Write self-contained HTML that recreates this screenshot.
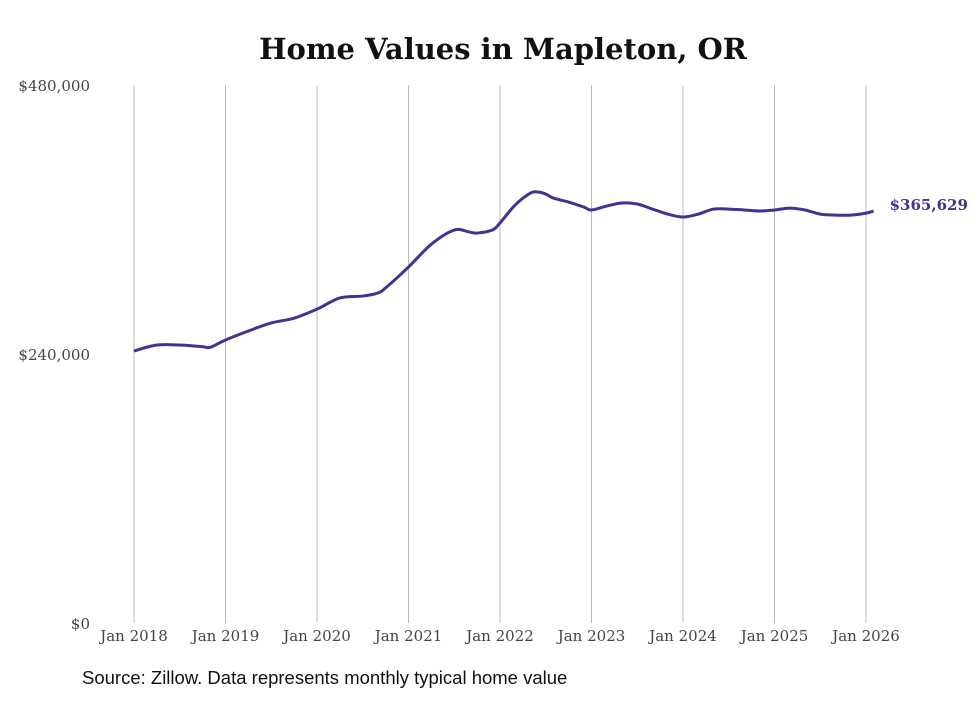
<!DOCTYPE html>
<html><head><meta charset="utf-8"><style>
body{margin:0;background:#fff;width:980px;height:699px;overflow:hidden}
svg text{font-family:"DejaVu Serif","Liberation Serif",serif}
</style></head><body>
<svg width="980" height="699">
<text x="503" y="59" text-anchor="middle" font-size="29" font-weight="bold" fill="#111">Home Values in Mapleton, OR</text>
<g id="grid"></g><g id="yaxis"></g><g id="xaxis"></g>
<path id="line" fill="none" stroke="#3f3393" stroke-width="3"/>
<text id="endlabel" font-size="15" font-weight="bold" fill="#3f3393"></text>
<text x="82" y="684" font-size="18.5" fill="#111" style="font-family:'Liberation Sans',sans-serif">Source: Zillow. Data represents monthly typical home value</text>
</svg>
<script>
const months=[0,3,6,9,10,12,15,18,21,24,27,30,32,33,36,39,42,44,45,47,48,50,52,53,54,55,57,59,60,62,64,66,68,70,72,74,76,78,80,82,84,86,88,90,92,94,96,97];
const values=[242700,248000,248000,246500,246000,252500,260500,267700,272000,280000,290000,291700,294500,299000,317600,338000,350600,348800,347900,350600,356900,373000,383600,384500,382700,379100,375600,371100,368500,372000,374700,373800,369300,364800,362200,364800,369300,369300,368500,367600,368500,370200,368500,364800,363900,363900,365700,367500];
const yTicks=[0,240000,480000];
const yearLabels=["Jan 2018","Jan 2019","Jan 2020","Jan 2021","Jan 2022","Jan 2023","Jan 2024","Jan 2025","Jan 2026"];
const finalLabel="$365,629";
const NS="http://www.w3.org/2000/svg";
const x=m=>134+m*(866-134)/96;
const y=v=>623-v*538/480000;
function mk(t,a,p){const e=document.createElementNS(NS,t);for(const k in a)e.setAttribute(k,a[k]);p.appendChild(e);return e;}
const grid=document.getElementById('grid'),xa=document.getElementById('xaxis'),ya=document.getElementById('yaxis');
yearLabels.forEach((l,i)=>{
 const g=mk('line',{x1:x(i*12),x2:x(i*12),y1:85,y2:623,stroke:'#bbb','stroke-width':1},grid);
 
 
 const t=mk('text',{x:x(i*12),y:641,'text-anchor':'middle','font-size':15,fill:'#444'},xa);t.textContent=l;
 
 
});
yTicks.forEach(v=>{
 const t=mk('text',{x:90,y:y(v)+6,'text-anchor':'end','font-size':15,fill:'#444'},ya);
 t.textContent='$'+v.toLocaleString('en-US');
 
 
});
const pts=months.map((m,i)=>[x(m),y(values[i])]);
let d='M'+pts[0][0]+','+pts[0][1];
for(let i=0;i<pts.length-1;i++){
 const p0=pts[i-1]||pts[i],p1=pts[i],p2=pts[i+1],p3=pts[i+2]||p2;
 const c1=[p1[0]+(p2[0]-p0[0])/6,p1[1]+(p2[1]-p0[1])/6],c2=[p2[0]-(p3[0]-p1[0])/6,p2[1]-(p3[1]-p1[1])/6];
 d+=` C${c1[0]},${c1[1]} ${c2[0]},${c2[1]} ${p2[0]},${p2[1]}`;
}
document.getElementById('line').setAttribute('d',d);
const el=document.getElementById('endlabel');
const last=pts[pts.length-1];
el.setAttribute('x',last[0]+16);el.setAttribute('y',last[1]-1);el.textContent=finalLabel;
</script>
</body></html>
